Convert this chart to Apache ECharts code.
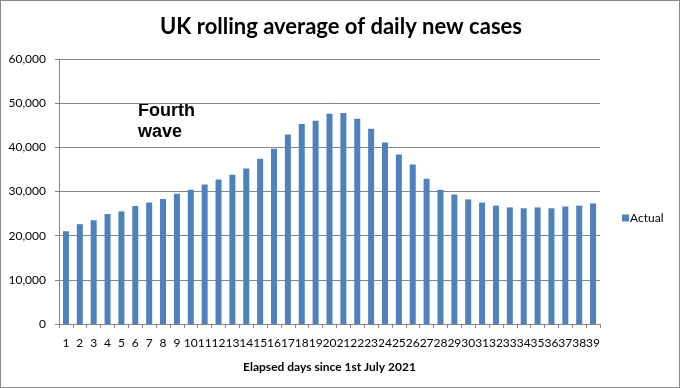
<!DOCTYPE html>
<html><head><meta charset="utf-8">
<script src="https://cdn.jsdelivr.net/npm/echarts@6/dist/echarts.min.js"></script>
<style>html,body{margin:0;padding:0;background:#fff}#c{width:680px;height:388px;box-sizing:border-box;border:1px solid #8a8a8a}</style>
</head><body><div id="c"></div>
<script>
const categories = ['1','2','3','4','5','6','7','8','9','10','11','12','13','14','15','16','17','18','19','20','21','22','23','24','25','26','27','28','29','30','31','32','33','34','35','36','37','38','39'];
const actual = [21000,22600,23500,24900,25500,26700,27500,28300,29500,30400,31600,32700,33800,35200,37400,39700,42900,45300,46000,47600,47800,46500,44200,41100,38400,36100,32900,30400,29300,28200,27500,26800,26400,26200,26400,26200,26600,26800,27300];
const yTicks = [0,10000,20000,30000,40000,50000,60000];

const chart = echarts.init(document.getElementById('c'));
chart.setOption({
  animation:false,
  graphic:[
    {type:'text',x:340,y:15,style:{text:'UK rolling average of daily new cases',align:'center',font:'bold 22px Lato, "Liberation Sans"',fill:'#000'}},
    {type:'text',left:137,top:100,style:{text:'Fourth\nwave',font:'bold 18px "Liberation Sans", Arial',fill:'#000',lineHeight:21}}
  ],
  grid:{left:58,top:58,width:541,height:265,containLabel:false},
  legend:{data:['Actual'],orient:'vertical',left:616,top:206,itemWidth:7,itemHeight:7,itemGap:4,
    icon:'rect',textStyle:{fontFamily:'Lato',fontSize:12,color:'#000',padding:[0,0,0,-4]}},
  xAxis:{type:'category',data:categories,
    name:'Elapsed days since 1st July 2021',nameLocation:'middle',nameGap:37,
    nameTextStyle:{fontFamily:'Lato',fontSize:12,fontWeight:'bold',color:'#000'},
    axisLine:{lineStyle:{color:'#868686'}},
    axisTick:{show:true,length:4,lineStyle:{color:'#868686'},alignWithLabel:false},
    axisLabel:{interval:0,fontFamily:'Lato',fontSize:12,color:'#000',margin:13}},
  yAxis:{type:'value',min:0,max:60000,interval:10000,
    axisLine:{show:true,lineStyle:{color:'#868686'}},
    axisTick:{show:true,length:4,lineStyle:{color:'#868686'}},
    splitLine:{lineStyle:{color:'#868686'}},
    axisLabel:{fontFamily:'Lato',fontSize:12,color:'#000',margin:13,
      formatter:v=>v.toLocaleString('en-US')}},
  series:[{name:'Actual',type:'bar',data:actual,barWidth:6,itemStyle:{color:'#4F81BD'}}]
});
</script></body></html>
